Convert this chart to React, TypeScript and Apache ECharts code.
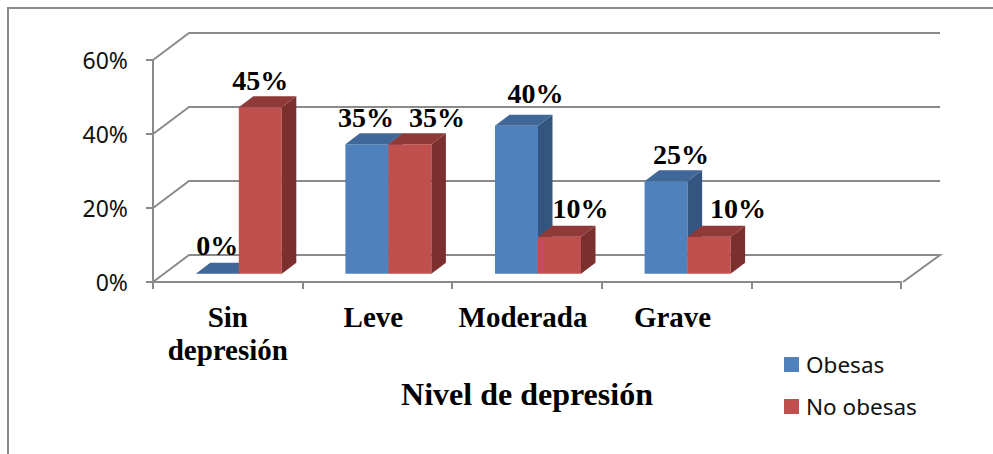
import React, { useEffect, useRef } from "react";
import * as echarts from "echarts";

const categories = ["Sin\ndepresión", "Leve", "Moderada", "Grave", ""];
const yTicks = [0, 0.2, 0.4, 0.6];
const obesas = [0, 0.35, 0.4, 0.25];
const noObesas = [0.45, 0.35, 0.1, 0.1];

const LABEL_SHIFT = { Obesas: [0, -1, 19, 15], "No obesas": [0, 27, 21, 29] };
const LABEL_RISE = { Obesas: [1, 0, 5, 0], "No obesas": [0, 0, 1, 1] };
const AXIS = "#8a8a8a";
const WALL_DX = 36;
const WALL_DY = 27;
const BAR_DX = 14.5;
const BAR_DY = 11;
const BAR_FRONT_DY = -8.3;
const BAR_CENTER_DX = 11;
const BAR_W = 43;
const SERIF = "'Liberation Serif', serif";
const SANS = "'Noto Sans', sans-serif";
const CAT_FONT = { fontFamily: SERIF, fontWeight: "bold", fontSize: 29, color: "#000", lineHeight: 33 };

function barItem(name: string, sign: number, front: string, top: string, side: string) {
  return (_p: any, api: any) => {
    const idx = api.value(0);
    const v = api.value(1);
    const [cx, yv] = api.coord([idx, v]);
    const [, y0c] = api.coord([idx, 0]);
    const y = yv + BAR_FRONT_DY;
    const y0 = y0c + BAR_FRONT_DY;
    const x0 = sign < 0 ? cx + BAR_CENTER_DX - BAR_W : cx + BAR_CENTER_DX;
    const x1 = x0 + BAR_W;
    const children: any[] = [];
    if (v > 0) {
      children.push({ type: "rect", shape: { x: x0, y, width: BAR_W, height: y0 - y }, style: { fill: front } });
      children.push({
        type: "polygon",
        shape: { points: [[x1, y], [x1 + BAR_DX, y - BAR_DY], [x1 + BAR_DX, y0 - BAR_DY], [x1, y0]] },
        style: { fill: side },
      });
    }
    children.push({
      type: "polygon",
      shape: { points: [[x0, y], [x0 + BAR_DX, y - BAR_DY], [x1 + BAR_DX, y - BAR_DY], [x1, y]] },
      style: { fill: top },
    });
    const dx = (LABEL_SHIFT as any)[name][idx];
    const rise = (LABEL_RISE as any)[name][idx];
    children.push({
      type: "text",
      z2: 20,
      style: {
        x: (x0 + x1) / 2 + dx,
        y: y - 13 - rise,
        text: Math.round(v * 100) + "%",
        fill: "#000",
        font: `bold 28px ${SERIF}`,
        align: "center",
        verticalAlign: "bottom",
      },
    });
    return { type: "group", children };
  };
}

export default function App() {
  const ref = useRef<HTMLDivElement>(null);
  useEffect(() => {
    document.body.style.margin = "0";
    const chart = echarts.init(ref.current!, null, { renderer: "svg" });
    chart.setOption({
      animation: false,
      backgroundColor: "#fff",
      grid: { left: 153, top: 60, width: 748, height: 222 },
      graphic: [
        {
          type: "polyline",
          silent: true,
          shape: { points: [[8, 454], [8, 8], [993, 8]] },
          style: { stroke: AXIS, lineWidth: 2, fill: "none" },
        },
      ],
      legend: {
        left: 779,
        top: 348,
        orient: "vertical",
        itemWidth: 15,
        itemHeight: 15,
        itemGap: 19,
        data: [
          { name: "Obesas", icon: "rect" },
          { name: "No obesas", icon: "rect" },
        ],
        textStyle: { fontFamily: SANS, fontSize: 22.5, color: "#111", padding: [0, 0, 0, 2] },
      },
      xAxis: {
        type: "category",
        data: categories,
        name: "Nivel de depresión",
        nameLocation: "middle",
        nameGap: 96,
        nameTextStyle: { fontFamily: SERIF, fontWeight: "bold", fontSize: 32, color: "#000" },
        axisLine: { show: true, lineStyle: { color: AXIS, width: 2 } },
        axisTick: { show: true, length: 7, lineStyle: { color: AXIS, width: 2 } },
        axisLabel: {
          interval: 0,
          margin: 18,
          ...CAT_FONT,
          formatter: (v: string, i: number) =>
            i === 0
              ? v.split("\n").map((s) => `{first|${s}}`).join("\n")
              : v
              ? `{rest|${v}}`
              : "",
          rich: {
            first: { ...CAT_FONT },
            rest: { ...CAT_FONT, padding: [0, 8, 0, 0] },
          },
        },
      },
      yAxis: {
        type: "value",
        min: 0,
        max: 0.6,
        interval: 0.2,
        axisLine: { show: true, lineStyle: { color: AXIS, width: 2 } },
        axisTick: { show: true, length: 7, lineStyle: { color: AXIS, width: 2 } },
        splitLine: { show: false },
        axisLabel: {
          margin: 25,
          fontFamily: SANS,
          fontSize: 23,
          color: "#111",
          formatter: (v: number) => Math.round(v * 100) + "%",
        },
      },
      series: [
        {
          type: "custom",
          name: "wall",
          silent: true,
          clip: false,
          z: 1,
          data: yTicks.map((t) => [0, t]),
          renderItem: (_p: any, api: any) => {
            const t = api.value(1);
            const y = api.coord([0, t])[1];
            const left = _p.coordSys.x;
            const right = left + _p.coordSys.width;
            const pts: number[][] = [[left, y], [left + WALL_DX, y - WALL_DY], [right + WALL_DX + 3, y - WALL_DY]];
            if (t === 0) pts.push([right + 2, y]);
            return {
              type: "polyline",
              shape: { points: pts },
              style: { stroke: AXIS, lineWidth: 2, fill: "none" },
            };
          },
        },
        {
          type: "custom",
          name: "Obesas",
          z: 3,
          clip: false,
          itemStyle: { color: "#4F81BD" },
          data: obesas.map((v, i) => [i, v]),
          renderItem: barItem("Obesas", -1, "#4F81BD", "#3F6797", "#34557F"),
        },
        {
          type: "custom",
          name: "No obesas",
          z: 4,
          clip: false,
          itemStyle: { color: "#C0504D" },
          data: noObesas.map((v, i) => [i, v]),
          renderItem: barItem("No obesas", 1, "#C0504D", "#8F3A38", "#7C302E"),
        },
      ],
    });
    return () => chart.dispose();
  }, []);
  return <div ref={ref} style={{ width: 993, height: 454 }} />;
}
